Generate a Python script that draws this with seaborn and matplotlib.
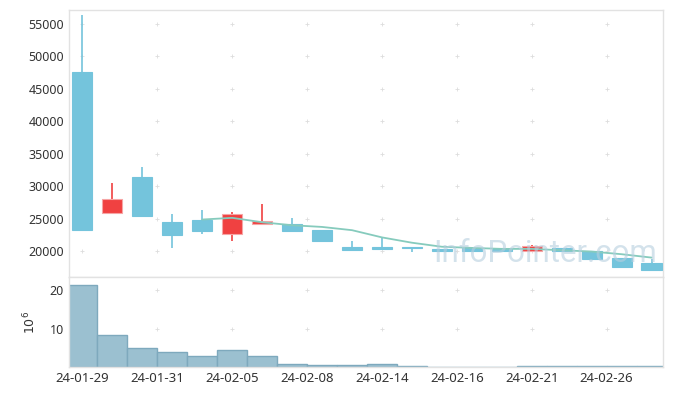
import numpy as np
import pandas as pd
import matplotlib
matplotlib.use('Agg')
import matplotlib.pyplot as plt
import seaborn as sns

# datos (precio y volumen diario)
dates = ['24-01-29', '24-01-30', '24-01-31', '24-02-01', '24-02-02', '24-02-05', '24-02-06',
         '24-02-07', '24-02-08', '24-02-13', '24-02-14', '24-02-15', '24-02-16', '24-02-19',
         '24-02-20', '24-02-21', '24-02-22', '24-02-23', '24-02-26', '24-02-27']
open_ = [47600, 25910, 31410, 24470, 24780, 22620, 24220, 24200, 23240, 20620,
         20620, 20620, 20300, 20460, 20360, 20050, 20460, 20000, 18880, 18150]
close = [23240, 28020, 25450, 22520, 23130, 25710, 24630, 23150, 21540, 20200,
         20300, 20460, 20000, 20050, 20000, 20770, 20000, 18830, 17600, 17120]
high = [56340, 30440, 32950, 25700, 26320, 26060, 27290, 25080, 23240, 21530,
        22150, 20620, 20300, 20460, 20360, 21030, 20460, 20100, 18880, 18740]
low = [23240, 25850, 25450, 20570, 22580, 21540, 24100, 23150, 21540, 20200,
       20300, 19950, 20000, 20050, 20000, 20050, 20000, 18830, 17600, 17120]
ma5 = [np.nan, np.nan, np.nan, np.nan, 24880, 25140, 24460, 24000, 23740, 23240,
       22130, 21310, 20690, 20510, 20360, 20360, 20150, 19950, 19540, 19020]
volume = [21.3, 8.4, 5.0, 3.9, 2.9, 4.5, 2.9, 0.8, 0.5, 0.45,
          0.8, 0.2, 0.15, 0.15, 0.0, 0.4, 0.2, 0.2, 0.2, 0.2]  # x10^6

tick_pos = [0, 2.5, 5, 7.5, 10, 12.5, 15, 17.5]
tick_labels = ['24-01-29', '24-01-31', '24-02-05', '24-02-08',
               '24-02-14', '24-02-16', '24-02-21', '24-02-26']
price_ticks = [20000, 25000, 30000, 35000, 40000, 45000, 50000, 55000]
vol_ticks = [10, 20]

sns.set_style('white')
plt.rcParams['font.family'] = ['Noto Sans', 'DejaVu Sans']

up_col = '#f04141'
down_col = '#74c4dc'

df = pd.DataFrame({'date': dates, 'open': open_, 'close': close, 'high': high,
                   'low': low, 'ma5': ma5, 'volume': volume})
df['pos'] = np.arange(len(df))
df['up'] = df['close'] > df['open']

fig = plt.figure(figsize=(6.73, 3.96), dpi=100)
ax1 = fig.add_axes([0.1025, 0.30, 0.8825, 0.675])
ax2 = fig.add_axes([0.1025, 0.073, 0.8825, 0.227])

# velas
for _, r in df.iterrows():
    c = up_col if r['up'] else down_col
    ax1.vlines(r['pos'], r['low'], r['high'], color=c, linewidth=1.2, zorder=2)
    bottom = min(r['open'], r['close'])
    h = max(abs(r['close'] - r['open']), 80)
    ax1.bar(r['pos'], h, bottom=bottom, width=0.67, color=c,
            edgecolor='#f6a5a5' if r['up'] else c, linewidth=0.8, zorder=3)

sns.lineplot(data=df, x='pos', y='ma5', ax=ax1, color='#86cbbd', linewidth=1.3, zorder=4)

# marca de agua
ax1.text(0.801, 0.09, 'InfoPointer.com', transform=ax1.transAxes, ha='center', va='center',
         fontsize=22.5, color='#b7cfdf', alpha=0.6, zorder=5, family=['Roboto'])

# volumen
sns.barplot(data=df, x='date', y='volume', ax=ax2, order=dates, width=1.0,
            color='#9bc0d0', edgecolor='#7ea9bd', linewidth=1, saturation=1)

xlim = (-0.45, 19.38)
for ax in (ax1, ax2):
    ax.set_xlim(*xlim)
    ax.set_xlabel('')
    for s in ax.spines.values():
        s.set_color('#e2e2e2')
        s.set_linewidth(1)
    ax.tick_params(length=0, labelsize=9, colors='#333333')

ax1.set_ylim(16000, 57160)
ax1.set_yticks(price_ticks)
ax1.set_xticks(tick_pos)
ax1.set_xticklabels([])
ax1.set_ylabel('')

ax2.set_ylim(0, 23.4)
ax2.set_yticks(vol_ticks)
ax2.set_xticks(tick_pos)
ax2.set_xticklabels(tick_labels, fontsize=9.5)
ax2.set_ylabel('$10^6$', fontsize=9, color='#333333', labelpad=8)

# marcas "+" de la rejilla
gx, gy = np.meshgrid(tick_pos, price_ticks)
ax1.scatter(gx.ravel(), gy.ravel(), marker='+', s=12, color='#dddddd', linewidths=0.6, zorder=1)
gx, gy = np.meshgrid(tick_pos, vol_ticks)
ax2.scatter(gx.ravel(), gy.ravel(), marker='+', s=12, color='#dddddd', linewidths=0.6, zorder=0.5)

fig.savefig('out.png', dpi=100)
